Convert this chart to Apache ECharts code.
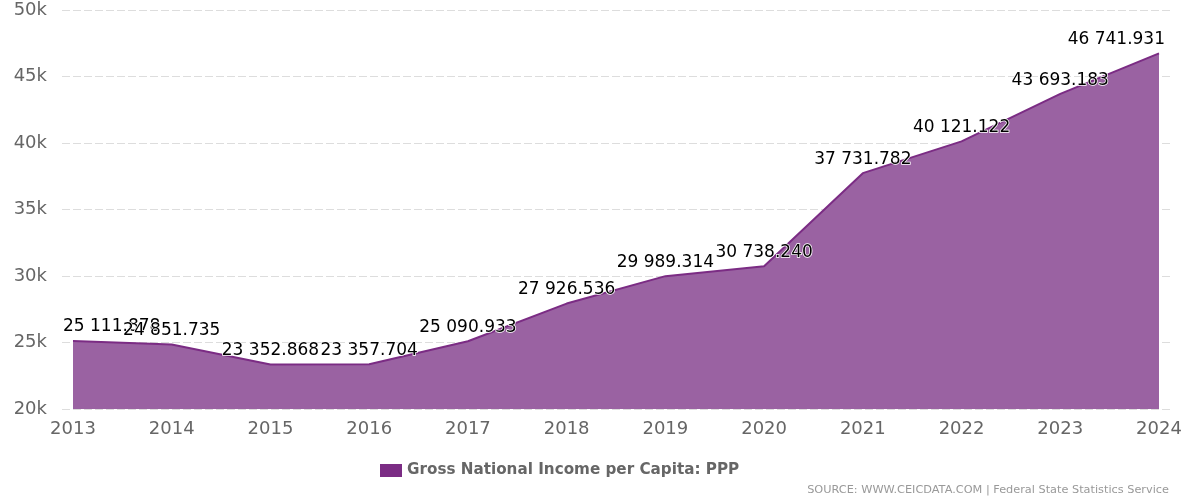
<!DOCTYPE html>
<html>
<head>
<meta charset="utf-8">
<script src="https://cdn.jsdelivr.net/npm/echarts@6/dist/echarts.min.js"></script>
<style>
html,body{margin:0;padding:0;background:#fff;}
#chart{width:1200px;height:500px;}
</style>
</head>
<body>
<div id="chart"></div>
<script>
const years = [2013, 2014, 2015, 2016, 2017, 2018, 2019, 2020, 2021, 2022, 2023, 2024];
const gniPpp = [25111.878, 24851.735, 23352.868, 23357.704, 25090.933, 27926.536, 29989.314, 30738.240, 37731.782, 40121.122, 43693.183, 46741.931];
const yTicks = [20000, 25000, 30000, 35000, 40000, 45000, 50000];
const seriesName = 'Gross National Income per Capita: PPP';
const sourceText = 'SOURCE: WWW.CEICDATA.COM | Federal State Statistics Service';

function fmt(v){
  const s = v.toFixed(3);
  const [i, d] = s.split('.');
  return i.replace(/\B(?=(\d{3})+(?!\d))/g, ' ') + '.' + d;
}

const GRID_L = 62, GRID_R = 27;
const plotW = 1200 - GRID_L - GRID_R;
const pxPerYear = (plotW - 11 - 14) / (years[years.length - 1] - years[0]);
const xMin = years[0] - 11 / pxPerYear;
const xMax = years[years.length - 1] + 14 / pxPerYear;

const chart = echarts.init(document.getElementById('chart'));
chart.setOption({
  animation: false,
  textStyle: { fontFamily: 'DejaVu Sans' },
  grid: { left: GRID_L, right: GRID_R, top: 10, bottom: 91 },
  legend: {
    bottom: 17,
    left: 375,
    itemWidth: 22,
    itemHeight: 13,
    icon: 'rect',
    textStyle: { fontSize: 15.2, fontWeight: 'bold', color: '#666', fontFamily: 'DejaVu Sans' },
    data: [seriesName]
  },
  graphic: [{
    type: 'text',
    right: 31,
    bottom: 4,
    style: { text: sourceText, fontSize: 11.3, fill: '#999', fontFamily: 'DejaVu Sans' }
  }],
  xAxis: {
    type: 'value',
    min: xMin,
    max: xMax,
    axisLine: { show: false },
    axisTick: { show: false },
    splitLine: { show: false },
    axisLabel: {
      fontSize: 18, color: '#666', margin: 11,
      customValues: years,
      formatter: v => String(Math.round(v))
    }
  },
  yAxis: {
    type: 'value',
    min: yTicks[0],
    max: yTicks[yTicks.length - 1],
    interval: 5000,
    axisLine: { show: false },
    axisTick: { show: false },
    axisLabel: {
      fontSize: 18, color: '#666', margin: 15,
      formatter: v => (v / 1000) + 'k'
    },
    splitLine: { lineStyle: { type: [8, 3], color: '#ddd', width: 1 } }
  },
  series: [{
    name: seriesName,
    type: 'line',
    data: years.map((y, i) => [y, gniPpp[i]]),
    symbol: 'circle',
    symbolSize: 0,
    showSymbol: true,
    color: '#7b2c84',
    lineStyle: { color: '#7b2c84', width: 2 },
    areaStyle: { color: '#9a62a2', opacity: 1 },
    label: {
      show: true,
      position: 'top',
      distance: 5,
      fontSize: 17,
      color: '#000',
      textBorderColor: '#fff',
      textBorderWidth: 1.5,
      formatter: p => fmt(p.value[1])
    },
    labelLayout: function (params) {
      const r = params.labelRect;
      if (r.x < 63) return { x: 63, y: r.y, align: 'left', verticalAlign: 'top' };
      if (r.x + r.width > 1165) return { x: 1165, y: r.y, align: 'right', verticalAlign: 'top' };
      return {};
    }
  }]
});
</script>
</body>
</html>
